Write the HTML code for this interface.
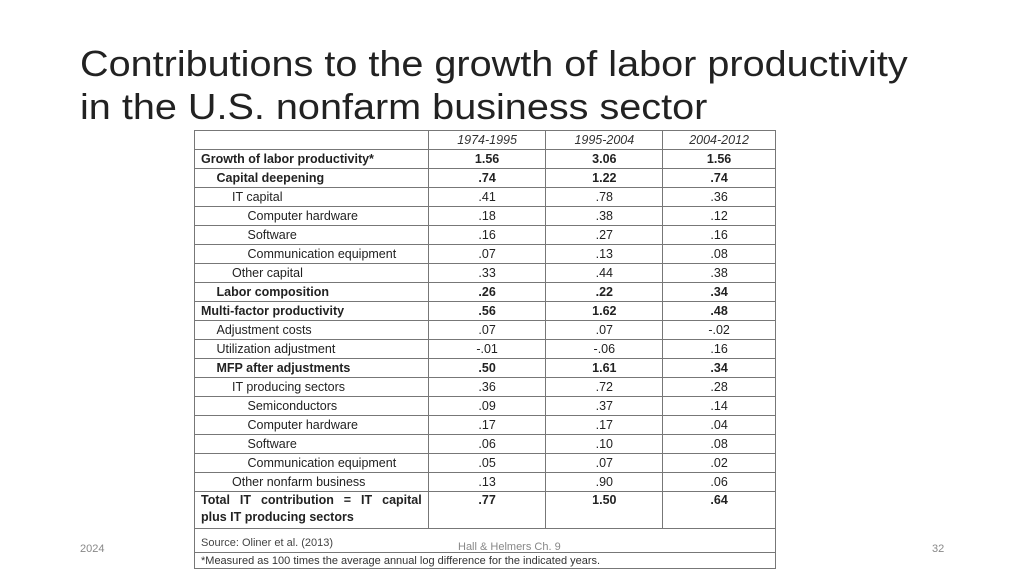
<!DOCTYPE html>
<html><head><meta charset="utf-8"><style>
body{margin:0;width:1024px;height:576px;background:#fff;position:relative;overflow:hidden;font-family:"Liberation Sans",sans-serif}
.title{position:absolute;left:80px;top:42px;font-size:36px;line-height:43px;color:#222;transform:scaleX(1.1);transform-origin:0 0;white-space:nowrap}
.tbl{position:absolute;left:194px;top:130px;width:582px;border-collapse:collapse;font-size:12.5px;color:#222}
.tbl td{border:1px solid #777;height:18px;padding:0;line-height:17px}
.tbl td.n{text-align:center}
.tbl tr.b td{font-weight:bold}
.h td{font-style:italic;text-align:center;color:#333}
.foot{position:absolute;font-size:11px;color:#888}
</style></head><body>
<div class="title">Contributions to the growth of labor productivity<br>in the U.S. nonfarm business sector</div>
<table class="tbl">
<colgroup><col style="width:234px"><col style="width:118px"><col style="width:117px"><col style="width:113px"></colgroup>
<tbody id="tb"></tbody>
</table>
<div class="foot" style="left:80px;top:543px">2024</div>
<div class="foot" style="left:458px;top:541px">Hall &amp; Helmers Ch. 9</div>
<div class="foot" style="left:932px;top:543px">32</div>
<script>
const headers=["1974-1995","1995-2004","2004-2012"];
const labels=["Growth of labor productivity*","Capital deepening","IT capital","Computer hardware","Software","Communication equipment","Other capital","Labor composition","Multi-factor productivity","Adjustment costs","Utilization adjustment","MFP after adjustments","IT producing sectors","Semiconductors","Computer hardware","Software","Communication equipment","Other nonfarm business"];
const levels=[0,1,2,3,3,3,2,1,0,1,1,1,2,3,3,3,3,2];
const bold=[1,1,0,0,0,0,0,1,1,0,0,1,0,0,0,0,0,0];
const v1=["1.56",".74",".41",".18",".16",".07",".33",".26",".56",".07","-.01",".50",".36",".09",".17",".06",".05",".13"];
const v2=["3.06","1.22",".78",".38",".27",".13",".44",".22","1.62",".07","-.06","1.61",".72",".37",".17",".10",".07",".90"];
const v3=["1.56",".74",".36",".12",".16",".08",".38",".34",".48","-.02",".16",".34",".28",".14",".04",".08",".02",".06"];
const tb=document.getElementById('tb');
let tr=document.createElement('tr');tr.className='h';


tr.innerHTML='<td></td>'+headers.map(h=>'<td>'+h+'</td>').join('');
tb.appendChild(tr);
labels.forEach((l,i)=>{
 const r=document.createElement('tr');if(bold[i])r.className='b';
 
 
 r.innerHTML='<td style="padding-left:'+(6+levels[i]*15.5)+'px">'+l+'</td><td class="n">'+v1[i]+'</td><td class="n">'+v2[i]+'</td><td class="n">'+v3[i]+'</td>';
 tb.appendChild(r);
});
const t=document.createElement('tr');t.className='b';


t.innerHTML='<td style="padding-left:6px;height:36px;vertical-align:top;padding-right:6px"><div style="text-align:justify;text-align-last:justify">Total IT contribution = IT capital</div><div>plus IT producing sectors</div></td><td class="n" style="vertical-align:top">.77</td><td class="n" style="vertical-align:top">1.50</td><td class="n" style="vertical-align:top">.64</td>';
tb.appendChild(t);
const s=document.createElement('tr');


s.innerHTML='<td colspan="4" style="height:23px;vertical-align:bottom;padding-left:6px;font-size:11px;color:#444;border-bottom:1px solid #777">Source: Oliner et al. (2013)</td>';
tb.appendChild(s);
const f=document.createElement('tr');


f.innerHTML='<td colspan="4" style="height:15px;line-height:14px;padding-left:6px;font-size:11px;color:#333">*Measured as 100 times the average annual log difference for the indicated years.</td>';
tb.appendChild(f);
</script>
</body></html>
